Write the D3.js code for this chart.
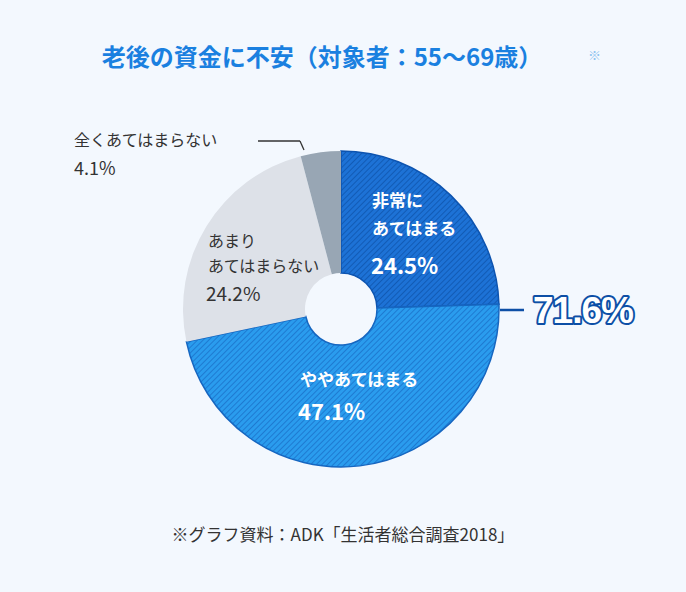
<!DOCTYPE html>
<html><head><meta charset="utf-8">
<script src="https://cdn.jsdelivr.net/npm/d3@7"></script>
<style>body{margin:0;background:#f3f8fe;}svg{display:block;font-family:"Noto Sans CJK JP",sans-serif;}</style>
</head><body><svg id="c" width="686" height="592"></svg>
<script>
const categories = ["非常にあてはまる","ややあてはまる","あまりあてはまらない","全くあてはまらない"];
const values = [24.5, 47.1, 24.2, 4.1];
const colors = ["#1b6fd2","#2898ec","#dde1e8","#98a6b4"];
const total = "71.6%";

const svg = d3.select("#c");
const defs = svg.append("defs");
[["h0","#1d72d6","#0c4fa3"],["h1","#2a9cee","#1768c2"]].forEach(([id,bg,ln])=>{
  const p = defs.append("pattern").attr("id",id).attr("patternUnits","userSpaceOnUse").attr("width",4).attr("height",4).attr("patternTransform","rotate(45)");
  p.append("rect").attr("width",4).attr("height",4).attr("fill",bg);
  p.append("line").attr("x1",0).attr("y1",0).attr("x2",0).attr("y2",4).attr("stroke",ln).attr("stroke-width",1.3);
});
const fills = ["url(#h0)","url(#h1)",colors[2],colors[3]];
const strokes = ["#0d54b0","#1666c0","none","none"];

const cx = 341, cy = 309;
const pie = d3.pie().sort(null).value(d=>d);
const arc = d3.arc().innerRadius(36).outerRadius(158);
const g = svg.append("g").attr("transform",`translate(${cx},${cy})`);
g.selectAll("path").data(pie(values)).join("path")
  .attr("d",arc).attr("fill",(d,i)=>fills[i]).attr("stroke",(d,i)=>strokes[i]).attr("stroke-width",1.5);

svg.append("text").attr("x",322).attr("y",66).attr("text-anchor","middle").attr("font-size",24).attr("font-weight",700).attr("fill","#1a80e0").text("老後の資金に不安（対象者：55〜69歳）");
svg.append("text").attr("x",588).attr("y",60).attr("font-size",13).attr("fill","#8ec3f0").text("※");

function lbl(x,y,lines,size,color,weight,lh){
  const t=svg.append("text").attr("font-size",size).attr("fill",color).attr("font-weight",weight);
  lines.forEach((l,i)=>t.append("tspan").attr("x",x).attr("y",y+i*lh).text(l));
}
lbl(372,207,["非常に","あてはまる"],17,"#fff",700,28);
svg.append("text").attr("x",371).attr("y",274).attr("font-size",22).attr("font-weight",700).attr("fill","#fff").text(values[0]+"%");
lbl(300,386,["ややあてはまる"],17,"#fff",700,28);
svg.append("text").attr("x",298).attr("y",420).attr("font-size",22).attr("font-weight",700).attr("fill","#fff").text(values[1]+"%");
lbl(208,247,["あまり","あてはまらない"],16,"#333",400,25);
svg.append("text").attr("x",206).attr("y",301).attr("font-size",19).attr("fill","#333").text(values[2]+"%");
svg.append("text").attr("x",74).attr("y",146).attr("font-size",16).attr("fill","#333").text("全くあてはまらない");
svg.append("text").attr("x",74).attr("y",175).attr("font-size",18).attr("fill","#333").text(values[3]+"%");
svg.append("line").attr("x1",258).attr("y1",141).attr("x2",300).attr("y2",141).attr("stroke","#333").attr("stroke-width",1.3);
svg.append("line").attr("x1",300).attr("y1",141).attr("x2",304).attr("y2",150).attr("stroke","#333").attr("stroke-width",1.3);
svg.append("line").attr("x1",500).attr("y1",310).attr("x2",524).attr("y2",310).attr("stroke","#0d4fa6").attr("stroke-width",2.5);
svg.append("text").attr("x",533).attr("y",323).attr("font-size",37).attr("font-weight",700).attr("font-family","'Liberation Sans',Arial,sans-serif").attr("letter-spacing",-1).attr("fill","#fff").attr("stroke","#0d4fa6").attr("stroke-width",4).attr("stroke-linejoin","round").attr("paint-order","stroke").text(total);
svg.append("text").attr("x",343).attr("y",541).attr("text-anchor","middle").attr("font-size",17).attr("fill","#333").text("※グラフ資料：ADK「生活者総合調査2018」");
</script></body></html>
